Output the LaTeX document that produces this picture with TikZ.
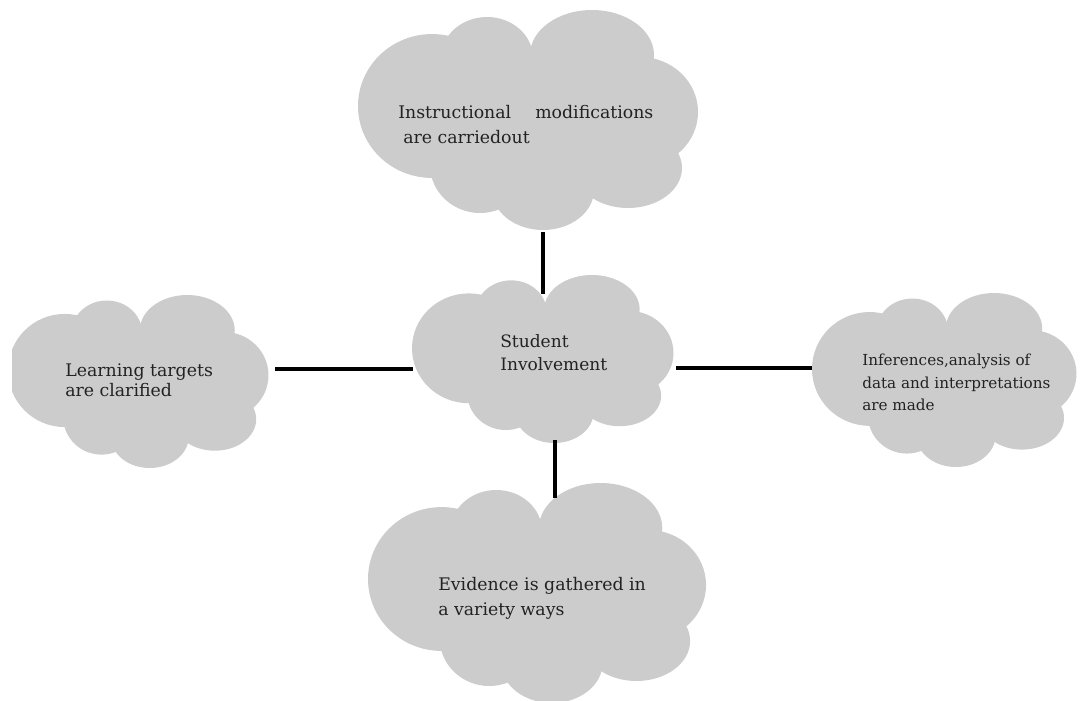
\documentclass[tikz,border=0pt]{standalone}
\usepackage{fontspec}
\setmainfont{DejaVu Serif}
\begin{document}
\begin{tikzpicture}[x=0.75pt,y=-0.75pt]
\definecolor{cloudgray}{HTML}{CCCCCC}
\definecolor{inkgray}{HTML}{222222}
\tikzset{
  puffpart/.style={fill=cloudgray},
  label/.style={anchor=base west, inner sep=0pt, text=inkgray},
  biglabel/.style={label, font=\fontsize{13}{15}\selectfont},
  midlabel/.style={label, font=\fontsize{12.8}{15}\selectfont},
  smalllabel/.style={label, font=\fontsize{11.4}{13}\selectfont},
  link/.style={line width=2.5pt, black}
}
% one cloud: corner (x0,y0), width w, height h
\newcommand\puff[4]{%
  \begin{scope}[shift={(#1,#2)}, xscale=#3, yscale=#4]
    \fill[puffpart] (0.5175,0.5227) ellipse [x radius=0.3216, y radius=0.3182];
    \fill[puffpart] (0.2164,0.4364) ellipse [x radius=0.2164, y radius=0.3270];
    \fill[puffpart] (0.3772,0.2182) ellipse [x radius=0.1345, y radius=0.1864];
    \fill[puffpart] (0.6842,0.2045) ellipse [x radius=0.1813, y radius=0.2045];
    \fill[puffpart] (0.8246,0.4636) ellipse [x radius=0.1696, y radius=0.2500];
    \fill[puffpart] (0.7895,0.7182) ellipse [x radius=0.1579, y radius=0.1818];
    \fill[puffpart] (0.5409,0.8182) ellipse [x radius=0.1491, y radius=0.1818];
    \fill[puffpart] (0.3567,0.7045) ellipse [x radius=0.1462, y radius=0.2182];
  \end{scope}}
\useasboundingbox (0,0) rectangle (1080,700);
\begin{scope}
  \clip (12,0) rectangle (1080,700);
  \puff{358}{10}{342}{220}
  \puff{412}{275}{263}{168}
  \puff{8}{295}{262}{173}
  \puff{812}{293}{266}{174}
  \puff{368}{483}{340}{220}
\end{scope}

% texts
\node[biglabel] (top1) at (398,118) {Instructional};
\node[biglabel] (top1b) at (535,118) {modifications};
\node[biglabel] (top2) at (403,143) {are carriedout};
\node[midlabel] (mid1) at (500,347) {Student};
\node[midlabel] (mid2) at (500,370) {Involvement};
\node[biglabel] (lft1) at (65,376) {Learning targets};
\node[biglabel] (lft2) at (65,396) {are clarified};
\node[smalllabel] (rgt1) at (862,365) {Inferences,analysis of};
\node[smalllabel] (rgt2) at (862,388) {data and interpretations};
\node[smalllabel] (rgt3) at (862,410) {are made};
\node[biglabel] (bot1) at (438,590) {Evidence is gathered in};
\node[biglabel] (bot2) at (438,615) {a variety ways};

% connector ends on the cloud rims
\coordinate (topcloud) at (543,232);
\coordinate (midtop) at (543,294);
\coordinate (midleft) at (413,369);
\coordinate (leftcloud) at (275,369);
\coordinate (midright) at (676,368);
\coordinate (rightcloud) at (812,368);
\coordinate (midbottom) at (555,440);
\coordinate (botcloud) at (555,498);

\draw[link] (topcloud) -- (midtop);
\draw[link] (leftcloud) -- (midleft);
\draw[link] (midright) -- (rightcloud);
\draw[link] (midbottom) -- (botcloud);
\end{tikzpicture}
\end{document}
